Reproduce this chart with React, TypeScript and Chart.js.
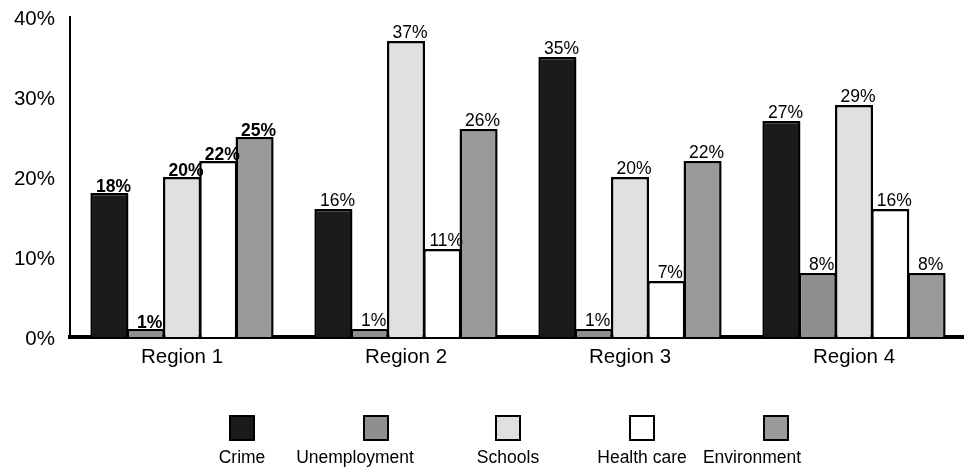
import React, { useEffect, useRef } from "react";
import { Chart, registerables } from "chart.js";

Chart.register(...registerables);

const categories = ["Region 1", "Region 2", "Region 3", "Region 4"];
const seriesNames = ["Crime", "Unemployment", "Schools", "Health care", "Environment"];
const crime = [18, 16, 35, 27];
const unemployment = [1, 1, 1, 8];
const schools = [20, 37, 20, 29];
const healthCare = [22, 11, 7, 16];
const environment = [25, 26, 22, 8];
const yTickStep = 10;
const yMax = 40;

const seriesValues = [crime, unemployment, schools, healthCare, environment];
const seriesColors = ["#1a1a1a", "#8f8f8f", "#e0e0e0", "#ffffff", "#9a9a9a"];

const FONT = '"Liberation Sans", Arial, Helvetica, sans-serif';

// Percent labels above every bar; the first group is drawn in bold
const valueLabels = {
  id: "valueLabels",
  afterDatasetsDraw(chart: any) {
    const ctx = chart.ctx;
    ctx.save();
    ctx.fillStyle = "#000";
    ctx.textAlign = "center";
    ctx.textBaseline = "alphabetic";
    chart.data.datasets.forEach((ds: any, di: number) => {
      const meta = chart.getDatasetMeta(di);
      meta.data.forEach((bar: any, i: number) => {
        const bold = i === 0;
        ctx.font = `${bold ? "bold " : ""}17.5px ${FONT}`;
        ctx.fillText(`${ds.data[i]}%`, bar.x + 4, bar.y - (bold ? 1 : 3));
      });
    });
    ctx.restore();
  },
};

// Legend: swatch boxes sitting above their labels
const boxCenters = [242, 376, 508, 642, 776];
const labelCenters = [242, 355, 508, 642, 752];
const swatchLegend = {
  id: "swatchLegend",
  afterDraw(chart: any) {
    const ctx = chart.ctx;
    ctx.save();
    seriesNames.forEach((name, i) => {
      const s = 24;
      const x = boxCenters[i] - s / 2;
      const y = 416;
      ctx.fillStyle = seriesColors[i];
      ctx.fillRect(x, y, s, s);
      ctx.lineWidth = 2;
      ctx.strokeStyle = "#000";
      ctx.strokeRect(x, y, s, s);
      ctx.fillStyle = "#000";
      ctx.font = `17.5px ${FONT}`;
      ctx.textAlign = "center";
      ctx.textBaseline = "alphabetic";
      ctx.fillText(name, labelCenters[i], 463);
    });
    ctx.restore();
  },
};

export default function App() {
  const canvasRef = useRef<HTMLCanvasElement | null>(null);

  useEffect(() => {
    if (!canvasRef.current) return;
    const chart = new Chart(canvasRef.current, {
      type: "bar",
      data: {
        labels: categories,
        datasets: seriesNames.map((name, i) => ({
          label: name,
          data: seriesValues[i],
          backgroundColor: seriesColors[i],
          borderColor: "#000",
          borderWidth: 2.5,
          borderSkipped: "bottom",
          categoryPercentage: 0.81,
          barPercentage: 1.05,
        })),
      },
      options: {
        responsive: false,
        animation: false,
        layout: { padding: { top: 17, right: 14, left: 0, bottom: 0 } },
        plugins: {
          legend: { display: false },
          tooltip: { enabled: false },
        },
        scales: {
          x: {
            grid: { display: false, drawTicks: false },
            border: { display: true, color: "#000", width: 4 },
            ticks: {
              color: "#000",
              padding: 8,
              font: { family: FONT, size: 20.5 },
            },
            afterFit(scale: any) {
              scale.height = 133;
              scale.paddingLeft = 0;
              scale.paddingRight = 0;
            },
          },
          y: {
            min: 0,
            max: yMax,
            grid: { display: false, drawTicks: false },
            border: { display: true, color: "#000", width: 2 },
            ticks: {
              stepSize: yTickStep,
              color: "#000",
              padding: 15,
              labelOffset: 2,
              font: { family: FONT, size: 20.5 },
              callback: (v: any) => `${v}%`,
            },
            afterFit(scale: any) {
              scale.width = 70;
              scale.paddingTop = 0;
              scale.paddingBottom = 0;
            },
          },
        },
      },
      plugins: [valueLabels, swatchLegend],
    });
    return () => chart.destroy();
  }, []);

  return (
    <div
      style={{
        position: "fixed",
        left: 0,
        top: 0,
        width: 964,
        height: 470,
        overflow: "hidden",
        background: "#fff",
      }}
    >
      <canvas ref={canvasRef} width={980} height={470} style={{ display: "block" }} />
    </div>
  );
}
